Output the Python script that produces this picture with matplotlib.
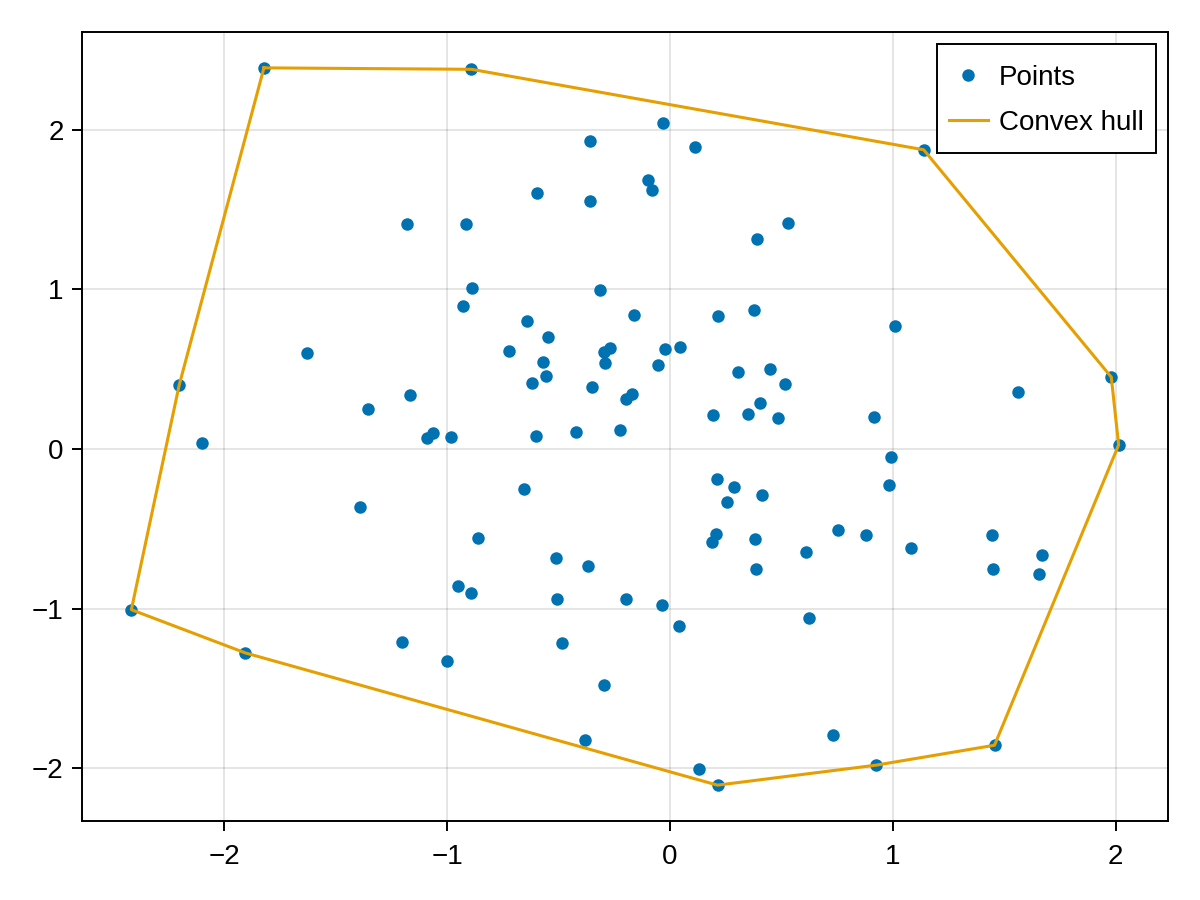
import matplotlib
matplotlib.use("Agg")
import matplotlib.pyplot as plt
import numpy as np
from matplotlib.legend_handler import HandlerLine2D

# scattered points
xs = [-1.823, -0.892, 1.138, 1.980, 2.013, 1.456, 0.924, 0.213, -1.906, -2.418, -2.203,
      -0.030, -0.360, 0.112, -0.597, -0.099, -0.080, -0.360, -1.179, -0.916, 0.527,
      0.388, -0.889, -0.315, -0.929, -0.160, -0.643, 0.215, 0.378, 1.010, -0.546,
      -1.631, -0.721, -0.297, -0.268, -0.570, -0.294, -0.021, 0.044, -0.056, -0.555,
      -0.619, -0.350, 0.305, 0.449, 0.516, 1.560, -0.169, -0.199, -1.166, -1.354,
      0.403, 0.191, 0.348, 0.484, 0.917, -2.102, -1.089, -1.063, -0.985, -0.600,
      -0.421, -0.227, 0.991, 0.983, 0.209, 0.285, 0.254, 0.412, -0.657, -1.390,
      -0.863, 0.207, 0.188, 0.382, 0.386, 0.611, 0.754, 0.879, 1.082, 1.444,
      1.449, 1.671, 1.657, -0.513, -0.368, -0.952, -0.892, -0.509, -0.197, -0.035,
      0.042, 0.624, -1.204, -0.485, -1.001, -0.297, -0.380, 0.731, 0.128]
ys = [2.387, 2.378, 1.874, 0.450, 0.025, -1.856, -1.981, -2.106, -1.278, -1.007, 0.402,
      2.039, 1.931, 1.893, 1.603, 1.687, 1.624, 1.551, 1.407, 1.407, 1.413,
      1.313, 1.005, 0.993, 0.896, 0.838, 0.802, 0.832, 0.871, 0.771, 0.699,
      0.602, 0.615, 0.607, 0.634, 0.542, 0.536, 0.627, 0.640, 0.525, 0.455,
      0.411, 0.386, 0.480, 0.502, 0.405, 0.358, 0.342, 0.313, 0.338, 0.252,
      0.288, 0.213, 0.217, 0.194, 0.200, 0.038, 0.067, 0.102, 0.073, 0.079,
      0.106, 0.119, -0.052, -0.225, -0.188, -0.238, -0.331, -0.286, -0.248, -0.365,
      -0.557, -0.530, -0.583, -0.565, -0.752, -0.646, -0.507, -0.540, -0.619, -0.538,
      -0.752, -0.667, -0.782, -0.684, -0.736, -0.857, -0.902, -0.938, -0.942, -0.977,
      -1.109, -1.057, -1.211, -1.213, -1.326, -1.478, -1.826, -1.793, -2.004]

# hull vertices, in order, closed
hull_x = [-1.823, -0.892, 1.138, 1.980, 2.013, 1.456, 0.924, 0.213, -1.906, -2.418, -2.203, -1.823]
hull_y = [2.387, 2.378, 1.874, 0.450, 0.025, -1.856, -1.981, -2.106, -1.278, -1.007, 0.402, 2.387]

ticks = [-2, -1, 0, 1, 2]


class CapLine(HandlerLine2D):
    # put the legend handle level with the middle of the capital letters
    def create_artists(self, legend, orig_handle, xdescent, ydescent, width, height, fontsize, trans):
        arts = super().create_artists(legend, orig_handle, xdescent, ydescent,
                                      width, height, fontsize, trans)
        for a in arts:
            a.set_ydata(np.full(len(a.get_xdata()), 0.37 * fontsize))
        return arts


plt.rcParams['font.family'] = ['Liberation Sans', 'DejaVu Sans']

fig = plt.figure(figsize=(12, 9), dpi=100)
ax = fig.add_axes([82 / 1200, 1 - 821 / 900, (1168 - 82) / 1200, (821 - 32) / 900])

pts, = ax.plot(xs, ys, 'o', ls='none', color='#0072B2', markersize=9, markeredgewidth=0,
               label='Points', zorder=3)
hull, = ax.plot(hull_x, hull_y, color='#E69F00', linewidth=2.2, label='Convex hull', zorder=4)

ax.margins(0.05)
ax.set_xticks(ticks)
ax.set_yticks(ticks)
ax.grid(True, color='black', alpha=0.12, linewidth=1.2)
ax.set_axisbelow(True)
ax.tick_params(direction='out', length=7.2, width=1.4, labelsize=20)
ax.tick_params(axis='x', pad=9.5)
ax.tick_params(axis='y', pad=6)
for s in ax.spines.values():
    s.set_linewidth(1.4)

leg = ax.legend(loc='upper right', fontsize=20, fancybox=False, framealpha=1,
                edgecolor='black', borderaxespad=0.43, borderpad=0.43,
                handlelength=1.4, handleheight=1.84, handletextpad=0.42,
                labelspacing=0.18, numpoints=1,
                handler_map={pts: CapLine(), hull: CapLine()})
leg.get_frame().set_linewidth(1.4)

fig.savefig('out.png', dpi=100)
